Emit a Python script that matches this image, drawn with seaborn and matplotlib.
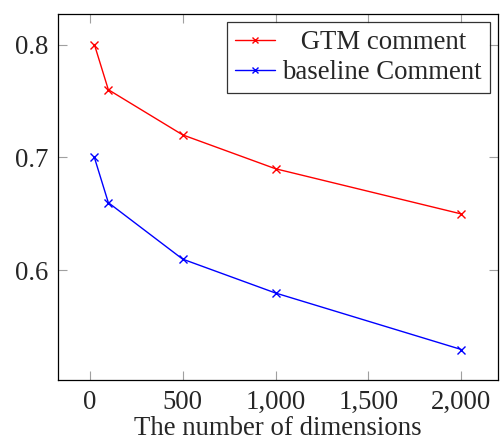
import matplotlib
matplotlib.use("Agg")
import matplotlib.pyplot as plt
import seaborn as sns
import pandas as pd
from matplotlib.ticker import FuncFormatter
from matplotlib.lines import Line2D

dimensions = [25, 100, 500, 1000, 2000]
gtm_comment = [0.80, 0.76, 0.72, 0.69, 0.65]
baseline_comment = [0.70, 0.66, 0.61, 0.58, 0.53]
series_names = ["GTM comment", "baseline Comment"]
series_colors = ["#ff0000", "#0000ff"]
x_ticks = [0, 500, 1000, 1500, 2000]
y_ticks = [0.6, 0.7, 0.8]

df = pd.DataFrame({
    "dim": dimensions * 2,
    "score": gtm_comment + baseline_comment,
    "series": [series_names[0]] * len(dimensions) + [series_names[1]] * len(dimensions),
})

sns.set_style("white")
plt.rcParams["font.family"] = ["Liberation Serif", "DejaVu Serif"]

FS = 19.3

fig = plt.figure(figsize=(5.03, 4.45), dpi=100)
ax = fig.add_axes([57.7 / 503, 1 - 380 / 445, (498 - 57.7) / 503, (380 - 14) / 445])

sns.lineplot(data=df, x="dim", y="score", hue="series",
             palette=dict(zip(series_names, series_colors)),
             marker="x", markersize=6, linewidth=1.0,
             ax=ax, legend=False)

for line, c in zip(ax.get_lines(), series_colors):
    line.set_markeredgecolor(c)
    line.set_markerfacecolor(c)
    line.set_markeredgewidth(1.0)

# pad the limits by 10% of the data range on each side
xr = max(dimensions) - min(dimensions)
yall = gtm_comment + baseline_comment
yr = max(yall) - min(yall)
ax.set_xlim(min(dimensions) - 0.1 * xr, max(dimensions) + 0.1 * xr)
ax.set_ylim(min(yall) - 0.1 * yr, max(yall) + 0.1 * yr)
ax.set_xticks(x_ticks)
ax.set_yticks(y_ticks)
ax.xaxis.set_major_formatter(FuncFormatter(lambda v, p: f"{int(v):,}"))
ax.yaxis.set_major_formatter(FuncFormatter(lambda v, p: f"{v:.1f}"))
ax.tick_params(axis="both", which="both", direction="in", length=6.5, width=0.8,
               color="#a0a0a0", labelsize=FS, top=True, right=True,
               bottom=True, left=True, pad=7)
for s in ax.spines.values():
    s.set_color("black")
    s.set_linewidth(0.9)

ax.set_xlabel("The number of dimensions", fontsize=FS, labelpad=1)
ax.set_ylabel("")

handles = [Line2D([0], [0], color=c, linewidth=1.0, marker="x", markersize=4,
                  markeredgewidth=1.0) for c in series_colors]
labels = ["\u2002\u2009" + series_names[0], series_names[1]]
leg = ax.legend(handles, labels, loc="upper right", fontsize=FS, frameon=True,
                fancybox=False, edgecolor="black", handlelength=1.5, handletextpad=0.26,
                borderpad=0.3, labelspacing=0.2, borderaxespad=0.3)
leg.get_frame().set_linewidth(0.9)

fig.savefig("out.png", dpi=100)
